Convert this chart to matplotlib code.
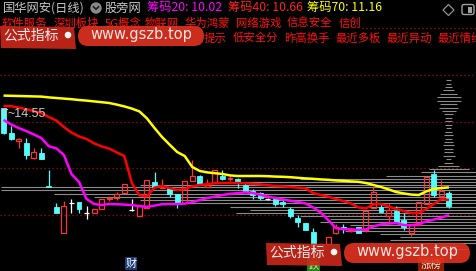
import matplotlib
matplotlib.use('Agg')
import matplotlib.pyplot as plt
from matplotlib.patches import Rectangle, FancyBboxPatch, Polygon, Circle

plt.rcParams['font.family'] = ['Noto Sans CJK SC', 'DejaVu Sans']

# ---------------- data (daily K-line, prices in yuan) ----------------
opens = [14.55, 13.30, 12.90, 12.80, 12.05, 12.30, 10.65, 9.60, 8.30, 9.80,
         9.85, 9.30, 9.30, 9.50, 10.00, 10.05, 10.30, 9.45, 9.15, 9.55,
         10.85, 10.55, 10.55, 10.25, 9.80, 10.90, 11.15, 10.60, 10.80, 11.15,
         11.00, 11.00, 10.70, 10.40, 10.30, 10.00, 10.00, 9.85, 9.50, 9.05,
         8.80, 8.35, 7.35, 7.75, 8.30, 8.60, 8.40, 8.60, 8.45, 9.55,
         9.60, 9.15, 9.40, 8.95, 8.30, 8.70, 9.75, 11.25, 10.15, 10.30]
closes = [13.30, 13.00, 13.00, 12.20, 12.35, 12.00, 10.60, 9.30, 9.65, 9.80,
          9.50, 9.30, 9.50, 10.00, 10.05, 10.25, 10.75, 9.45, 9.70, 10.95,
          10.60, 10.60, 10.25, 9.75, 10.90, 11.15, 10.75, 10.70, 11.45, 11.00,
          11.05, 10.85, 10.40, 10.20, 10.05, 10.00, 9.75, 9.75, 9.15, 8.85,
          8.45, 7.65, 7.75, 8.10, 8.60, 8.50, 8.45, 8.30, 9.40, 10.35,
          9.35, 9.45, 8.80, 8.60, 8.75, 9.85, 11.10, 10.20, 10.40, 9.65]
highs = [14.55, 13.65, 13.05, 13.05, 12.55, 12.55, 11.45, 9.80, 9.90, 10.00,
         9.85, 9.65, 9.50, 10.00, 10.15, 10.35, 10.75, 10.00, 9.70, 10.95,
         11.35, 11.00, 10.55, 10.25, 10.90, 11.95, 11.20, 11.00, 11.45, 11.45,
         11.15, 11.05, 10.80, 10.50, 10.35, 10.05, 10.05, 9.95, 9.60, 9.20,
         8.80, 8.55, 7.75, 8.10, 8.75, 8.75, 8.55, 8.60, 9.40, 10.60,
         9.80, 9.80, 9.65, 9.30, 8.75, 9.85, 11.10, 11.45, 10.95, 10.40]
lows = [13.25, 12.95, 12.55, 12.00, 12.00, 12.00, 10.60, 9.30, 8.30, 9.30,
        9.30, 9.00, 9.30, 9.50, 9.90, 9.95, 10.30, 9.40, 9.15, 9.55,
        10.60, 10.55, 10.10, 9.55, 9.80, 10.90, 10.75, 10.60, 10.80, 10.95,
        10.90, 10.55, 10.40, 10.00, 9.95, 9.95, 9.65, 9.60, 9.05, 8.60,
        8.45, 7.55, 7.30, 7.75, 8.25, 8.30, 8.35, 8.30, 8.35, 9.55,
        9.35, 8.80, 8.80, 8.45, 8.15, 8.70, 9.75, 10.10, 9.95, 9.55]

yellow_line = [15.17, 15.16, 15.15, 15.14, 15.13, 15.12, 15.08, 15.05, 15.02, 14.99,
               14.95, 14.92, 14.88, 14.84, 14.80, 14.72, 14.63, 14.52, 14.38, 14.03,
               13.55, 13.10, 12.72, 12.35, 12.15, 11.60, 11.40, 11.33, 11.29, 11.25,
               11.18, 11.15, 11.15, 11.15, 11.15, 11.14, 11.12, 11.11, 11.09, 11.06,
               11.03, 11.01, 10.98, 10.96, 10.93, 10.91, 10.88, 10.86, 10.80, 10.70,
               10.60, 10.48, 10.35, 10.28, 10.22, 10.20, 10.38, 10.50, 10.55, 10.58]
red_line = [14.65, 14.64, 14.57, 14.49, 14.40, 14.29, 14.10, 13.92, 13.60, 13.32,
            13.13, 13.00, 12.78, 12.63, 12.52, 12.33, 12.15, 10.80, 10.18, 10.14,
            10.57, 10.65, 10.55, 10.45, 10.50, 10.63, 10.70, 10.74, 10.79, 10.80,
            10.80, 10.80, 10.79, 10.76, 10.73, 10.69, 10.65, 10.63, 10.60, 10.57,
            10.53, 10.30, 10.20, 10.12, 10.00, 9.90, 9.78, 9.58, 9.53, 9.73,
            9.75, 9.63, 9.50, 9.40, 9.30, 9.30, 9.50, 9.75, 10.00, 9.95]
magenta_line = [13.95, 13.73, 13.55, 13.40, 13.23, 13.05, 12.64, 12.53, 12.20, 11.25,
                10.85, 10.00, 9.75, 9.70, 9.75, 9.74, 9.72, 9.70, 9.64, 9.61,
                9.67, 9.74, 9.75, 9.75, 9.77, 9.84, 9.95, 10.05, 10.12, 10.20,
                10.26, 10.29, 10.33, 10.30, 10.21, 10.12, 10.05, 9.98, 9.91, 9.85,
                9.78, 9.58, 9.33, 8.95, 8.55, 8.49, 8.48, 8.46, 8.48, 8.63,
                8.73, 8.77, 8.80, 8.70, 8.68, 8.75, 8.88, 8.97, 9.07, 9.20]

# chip distribution: price level and half length (in bars)
chip_prices = [15.95, 15.75, 15.60, 15.45, 15.25, 15.10, 14.90, 14.75, 14.55, 14.40,
               14.25, 14.05, 13.90, 13.70, 13.55, 13.35, 13.20, 13.00, 12.85, 12.70,
               12.50, 12.35, 12.15, 12.00, 11.80, 11.65, 11.50, 11.35, 11.15, 11.00,
               10.85, 10.70, 10.60, 10.45, 10.25, 10.10, 9.95, 9.80, 9.60, 9.45,
               9.30, 9.15, 9.00, 8.85, 8.70, 8.55, 8.40, 8.25, 8.10, 7.95,
               7.80, 7.65, 7.50, 7.35]
chip_half = [0.33, 0.33, 0.46, 0.73, 1.13, 1.59, 1.59, 1.13, 1.26, 0.93,
             0.60, 0.46, 0.46, 0.46, 0.33, 0.46, 0.60, 0.46, 0.60, 0.73,
             0.60, 0.60, 0.79, 0.33, 0.60, 1.39, 2.65, 3.71, 8.34, 19.7,
             27.7, 40.9, 59.3, 59.3, 52.3, 47.0, 40.9, 35.0, 29.0, 26.4,
             28.2, 19.7, 15.8, 17.1, 13.1, 10.5, 13.8, 9.1, 6.5, 7.8,
             3.8, 1.2, 2.5, 0.5]
grid_prices = [16.20, 13.85, 11.55, 9.20]
high_label = "14.55"

title_text = "国华网安(日线)"
site_text = "股旁网"
chip_labels = ["筹码20: 10.02", "筹码40: 10.66", "筹码70: 11.16"]
row2_words = ["软件服务", "深圳板块", "5G概念", "物联网", "华为鸿蒙", "网络游戏", "信息安全", "信创"]
row3_words = ["提示", "低安全分", "昨高换手", "最近多板", "最近异动", "最近情绪"]

# ---------------- figure ----------------
W, H = 476, 271
fig = plt.figure(figsize=(W / 100, H / 100), dpi=100, facecolor='black')
ax = fig.add_axes([0, 0, 1, 1])
ax.set_facecolor('black')
ax.axis('off')
step, x0 = 7.55, 3.5
ax.set_xlim((0 - x0) / step, (W - x0) / step)
ax.set_ylim(6.40, 19.95)

for gp in grid_prices:
    ax.axhline(gp, color='#a01010', lw=0.9, ls=(0, (1, 2.2)), zorder=1)

last = len(opens) - 1
ax.hlines(chip_prices, [last - h for h in chip_half], [last + h for h in chip_half],
          colors='#8c8c8c', lw=0.8, zorder=2)

bw = 0.66
RED, CYAN, WHITE = '#ff3232', '#54fcfc', '#ffffff'
for i, (o, c, h, l) in enumerate(zip(opens, closes, highs, lows)):
    if c > o:
        ax.vlines(i, c, h, color=RED, lw=0.9, zorder=3)
        ax.vlines(i, l, o, color=RED, lw=0.9, zorder=3)
        ax.add_patch(Rectangle((i - bw / 2, o), bw, c - o, fill=False,
                               edgecolor=RED, lw=0.9, zorder=3))
    elif c < o:
        ax.vlines(i, l, h, color=CYAN, lw=0.9, zorder=3)
        ax.add_patch(Rectangle((i - bw / 2, c), bw, o - c, facecolor=CYAN,
                               edgecolor=CYAN, lw=0.6, zorder=3))
    else:
        ax.vlines(i, l, h, color=WHITE, lw=0.9, zorder=3)
        ax.hlines(o, i - bw / 2, i + bw / 2, color=WHITE, lw=0.9, zorder=3)

idx = list(range(len(opens)))
ax.plot(idx, yellow_line, color='#ffff00', lw=1.8, zorder=4, solid_capstyle='butt')
ax.plot(idx, red_line, color='#ff0000', lw=1.8, zorder=4, solid_capstyle='butt')
ax.plot(idx, magenta_line, color='#ff00ff', lw=1.8, zorder=4, solid_capstyle='butt')

# ---------------- overlay (pixel coords) ----------------
ov = fig.add_axes([0, 0, 1, 1], facecolor='none')
ov.set_xlim(0, W)
ov.set_ylim(H, 0)
ov.axis('off')

ov.text(7, 114, "~" + high_label, color='#c8c8c8', fontsize=9,
        family=['Liberation Sans', 'DejaVu Sans'], va='center', ha='left')
ov.plot([4, 4, 7], [115, 109, 109], color='#c8c8c8', lw=0.8)

fs1 = 8.8
ov.text(3, 8, title_text, color='#c8c8c8', fontsize=fs1, va='center', ha='left')
ov.add_patch(Circle((96, 8), 5, color='#8a8a8a'))
ov.plot([93.5, 96, 98.5], [6.8, 9.3, 6.8], color='#202020', lw=1.2)
ov.text(105, 8, site_text, color='#c8c8c8', fontsize=fs1, va='center', ha='left')
for xx, lab, col in zip([147, 228, 307], chip_labels, ['#ff00ff', '#ff2020', '#ffff00']):
    ov.text(xx, 8, lab, color=col, fontsize=fs1, va='center', ha='left')
ov.add_patch(Polygon([(443, 10), (448.5, 4.5), (454, 10), (448.5, 15.5)], closed=True,
                     fill=False, edgecolor='#909090', lw=0.9))
ov.add_patch(FancyBboxPatch((462, 4.5), 12, 10, boxstyle='round,pad=0,rounding_size=2',
                            fill=False, edgecolor='#a0a0a0', lw=1.0))
ov.add_patch(Rectangle((468, 6.5), 4, 6, facecolor='#a0a0a0', edgecolor='none'))

# tag rows (12px bitmap-like font: CJK 11.4px, ASCII/space 5.7px)
fs2 = 8.2
cw = 11.4


def word_width(wd):
    return sum(cw if ord(ch) > 255 else cw / 2 for ch in wd)


xx = 2
for wd in row2_words:
    ov.text(xx, 23, wd, color='#ff1010', fontsize=fs2, va='center', ha='left')
    xx += word_width(wd) + cw / 2
ov.hlines(28, xx - cw / 2 + 1, W, colors='#a01010', lw=0.9, linestyles=(0, (1, 2.2)))

xx = 204
for wd in row3_words:
    ov.text(xx, 38, wd, color='#ff1010', fontsize=fs2, va='center', ha='left')
    xx += word_width(wd) + cw / 2

# tag boxes at bottom
ov.add_patch(Rectangle((125, 257), 12, 13, facecolor='#1a3a78', edgecolor='none'))
ov.text(131, 264, "财", color='white', fontsize=8, va='center', ha='center')
ov.add_patch(Rectangle((307, 257), 13, 14, facecolor='#138a13', edgecolor='none'))
ov.text(313.5, 265, "跌", color='#ffd0a0', fontsize=7.5, va='center', ha='center')
ov.add_patch(Rectangle((418, 257), 26, 14, facecolor='#8a2000', edgecolor='none'))
ov.text(431, 265, "涨榜", color='#ffe0e0', fontsize=7.5, va='center', ha='center')


def watermark(x, y):
    ov.add_patch(Polygon([(x, y), (x + 74, y + 1), (x + 76, y + 23), (x + 1, y + 22)],
                         closed=True, facecolor='#c8281a', edgecolor='none', alpha=0.92,
                         zorder=10))
    ov.text(x + 31, y + 9.5, "公式指标", color='#f2eaea', fontsize=10, va='center',
            ha='center', zorder=11)
    ov.add_patch(Circle((x + 68, y + 9), 2.6, color='#f4f4f4', zorder=11))
    ov.add_patch(FancyBboxPatch((x + 78, y), 126, 20,
                                boxstyle='round,pad=0,rounding_size=10',
                                facecolor='#e2321f', edgecolor='none', alpha=0.9, zorder=10))
    ov.text(x + 141, y + 8.5, "www.gszb.top", color='#f2e6e6', fontsize=10.5,
            family=['DejaVu Sans'], va='center', ha='center', zorder=11)


watermark(0, 26)
watermark(266, 243)

fig.savefig('out.png', dpi=100, facecolor='black')
